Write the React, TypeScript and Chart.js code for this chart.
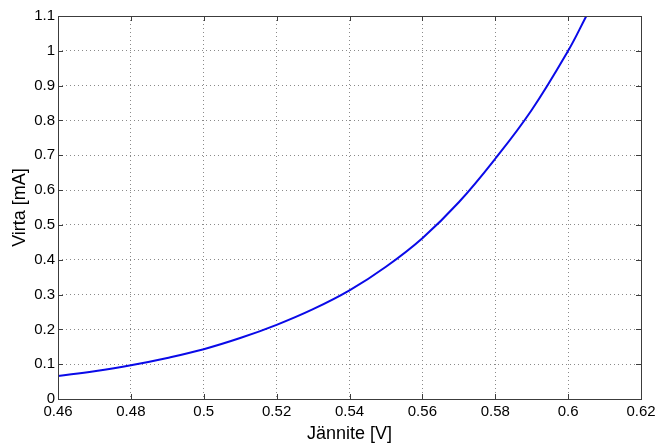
import React, { useEffect, useRef } from "react";
import { Chart, registerables } from "chart.js";

Chart.register(...registerables);

const voltage = [0.46, 0.47, 0.48, 0.49, 0.5, 0.51, 0.52, 0.53, 0.54, 0.55, 0.56, 0.57, 0.58, 0.59, 0.6, 0.605, 0.61];
const current = [0.066, 0.08, 0.097, 0.118, 0.143, 0.175, 0.213, 0.258, 0.312, 0.38, 0.462, 0.565, 0.69, 0.83, 1.0, 1.1, 1.2];
const xTicks = [0.46, 0.48, 0.5, 0.52, 0.54, 0.56, 0.58, 0.6, 0.62];
const yTicks = [0, 0.1, 0.2, 0.3, 0.4, 0.5, 0.6, 0.7, 0.8, 0.9, 1, 1.1];
const xTitle = "Jännite [V]";
const yTitle = "Virta [mA]";

const FONT = "'Liberation Sans', Arial, Helvetica, sans-serif";

const boxPlugin = {
  id: "matlabBox",
  afterDatasetsDraw(chart: any) {
    const { ctx, chartArea: a, scales } = chart;
    ctx.save();
    ctx.strokeStyle = "#3c3c3c";
    ctx.lineWidth = 1;
    const t = 5;
    ctx.beginPath();
    for (const v of xTicks) {
      const px = Math.round(scales.x.getPixelForValue(v)) + 0.5;
      ctx.moveTo(px, a.bottom);
      ctx.lineTo(px, a.bottom - t);
      ctx.moveTo(px, a.top);
      ctx.lineTo(px, a.top + t);
    }
    for (const v of yTicks) {
      const py = Math.round(scales.y.getPixelForValue(v)) + 0.5;
      ctx.moveTo(a.left, py);
      ctx.lineTo(a.left + t, py);
      ctx.moveTo(a.right, py);
      ctx.lineTo(a.right - t, py);
    }
    ctx.stroke();
    ctx.strokeRect(Math.round(a.left) + 0.5, Math.round(a.top) + 0.5, Math.round(a.right - a.left), Math.round(a.bottom - a.top));
    ctx.restore();
  },
};

export default function App() {
  const ref = useRef<HTMLCanvasElement>(null);
  useEffect(() => {
    if (!ref.current) return;
    const chart = new Chart(ref.current, {
      type: "line",
      data: {
        datasets: [
          {
            data: voltage.map((v, i) => ({ x: v, y: current[i] })),
            borderColor: "#0a0ae8",
            borderWidth: 2,
            pointRadius: 0,
            tension: 0.4,
            fill: false,
          },
        ],
      },
      options: {
        animation: false,
        responsive: false,
        devicePixelRatio: 1,
        layout: { padding: { top: 16, right: 16, left: 0, bottom: 0 } },
        plugins: { legend: { display: false }, tooltip: { enabled: false } },
        scales: {
          x: {
            type: "linear",
            min: 0.46,
            max: 0.62,
            afterBuildTicks: (s: any) => {
              s.ticks = xTicks.map((v) => ({ value: v }));
            },
            afterFit: (s: any) => {
              s.height = 46;
              s.paddingLeft = 0;
              s.paddingRight = 0;
            },
            ticks: {
              color: "#000",
              font: { family: FONT, size: 15 },
              padding: 4,
              callback: (v: any) => String(Number(v)),
              maxRotation: 0,
              autoSkip: false,
            },
            grid: {
              color: "#8a8a8a",
              drawTicks: false,
            },
            border: { display: false, dash: [1, 3] },
            title: {
              display: true,
              text: xTitle,
              color: "#000",
              font: { family: FONT, size: 18 },
              padding: { top: 0, bottom: 0 },
            },
          },
          y: {
            type: "linear",
            min: 0,
            max: 1.1,
            afterBuildTicks: (s: any) => {
              s.ticks = yTicks.map((v) => ({ value: v }));
            },
            afterFit: (s: any) => {
              s.width = 58;
              s.paddingTop = 0;
              s.paddingBottom = 0;
            },
            ticks: {
              color: "#000",
              font: { family: FONT, size: 15 },
              padding: 3,
              callback: (v: any) => String(Number(v)),
              autoSkip: false,
            },
            grid: {
              color: "#8a8a8a",
              drawTicks: false,
            },
            border: { display: false, dash: [1, 3] },
            title: {
              display: true,
              text: yTitle,
              color: "#000",
              font: { family: FONT, size: 18 },
              padding: { top: 9, bottom: 0 },
            },
          },
        },
      } as any,
      plugins: [boxPlugin],
    });
    return () => chart.destroy();
  }, []);
  return (
    <div style={{ position: "absolute", left: 0, top: 0, width: 657, height: 445, background: "#fff" }}>
      <canvas ref={ref} width={657} height={445} style={{ width: 657, height: 445 }} />
    </div>
  );
}
